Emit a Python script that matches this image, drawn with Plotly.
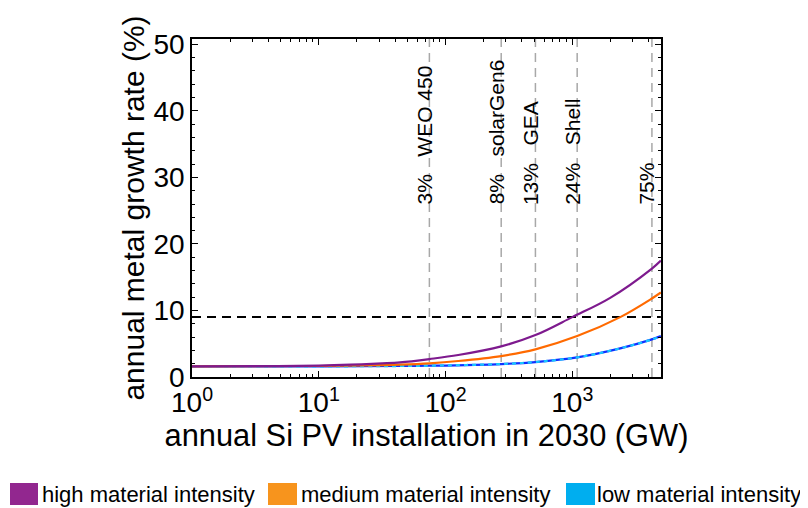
import math
import plotly.graph_objects as go

# ---- data ----
install_high = [1, 3.16, 10, 17.8, 31.6, 43.8, 74.6, 126, 275, 512, 1000, 1991, 4250, 5000]
growth_high = [1.6, 1.62, 1.72, 1.85, 2.05, 2.2, 2.7, 3.3, 4.6, 6.3, 9.0, 11.9, 16.3, 17.5]

install_med = [1, 10, 31.6, 43.8, 74.6, 126, 275, 512, 1093, 2390, 4250, 5000]
growth_med = [1.6, 1.65, 1.78, 1.85, 2.05, 2.4, 3.15, 4.15, 6.15, 9.0, 11.8, 12.7]

install_low = [1, 10, 43.8, 74.6, 275, 512, 1093, 2390, 4250, 5000]
growth_low = [1.6, 1.6, 1.65, 1.7, 1.95, 2.25, 2.95, 4.3, 5.65, 6.15]

threshold_x = [1, 5000]
threshold_y = [9.0, 9.0]

scenario_gw = [74.6, 275, 512, 1093, 4250]
scenario_labels = ["3%\u00a0\u00a0\u00a0WEO 450", "8%\u00a0\u00a0\u00a0solarGen6",
                   "13%\u00a0\u00a0\u00a0GEA", "24%\u00a0\u00a0\u00a0Shell", "75%"]
scenario_label_y = 25.6

legend_names = ["high material intensity", "medium material intensity", "low material intensity"]
legend_colors = ["#92278f", "#f7941d", "#00aeef"]

x_tickvals = [1, 10, 100, 1000]
x_ticktext = ["10<sup>0</sup>", "10<sup>1</sup>", "10<sup>2</sup>", "10<sup>3</sup>"]
y_tickvals = [0, 10, 20, 30, 40, 50]

FONT = "Liberation Sans, Arial, sans-serif"

# page body has an 8px margin, so the figure is drawn 8px smaller and offset
W, H = 800, 500
ML, MT, PW, PH = 184, 31, 469, 338


def px_x(page_x):
    return (page_x - 8 - ML) / PW


def px_y(page_y):
    return (MT + PH - (page_y - 8)) / PH


fig = go.Figure()

fig.add_trace(go.Scatter(x=threshold_x, y=threshold_y, mode="lines",
                         line=dict(color="black", width=2, dash="9px,6px"),
                         showlegend=False, hoverinfo="skip"))
fig.add_trace(go.Scatter(x=install_low, y=growth_low, mode="lines", line_shape="spline",
                         line=dict(color="#1030ff", width=2.2), showlegend=False))
fig.add_trace(go.Scatter(x=install_low, y=growth_low, mode="lines", line_shape="spline",
                         line=dict(color="#18c8ff", width=2.2, dash="4px,4px"),
                         name=legend_names[2], showlegend=False))
fig.add_trace(go.Scatter(x=install_med, y=growth_med, mode="lines", line_shape="spline",
                         line=dict(color="#ff6a00", width=2.2), name=legend_names[1],
                         showlegend=False))
fig.add_trace(go.Scatter(x=install_high, y=growth_high, mode="lines", line_shape="spline",
                         line=dict(color="#7e1a8e", width=2.2), name=legend_names[0],
                         showlegend=False))

shapes = []
annotations = []
for gw, lab in zip(scenario_gw, scenario_labels):
    shapes.append(dict(type="line", xref="x", yref="paper", x0=gw, x1=gw, y0=0, y1=1,
                       line=dict(color="#a8a8a8", width=1.5, dash="9px,6px"), layer="below"))
    annotations.append(dict(x=math.log10(gw), y=scenario_label_y, xref="x", yref="y", text=lab,
                            textangle=-90, showarrow=False, xanchor="center", yanchor="bottom",
                            xshift=-5, font=dict(family=FONT, size=21, color="black")))

# manual legend below the chart
leg_box_x = [[10, 38], [268, 297], [566, 595]]
leg_text_x = [40, 299, 595]
for (bx0, bx1), tx, name, col in zip(leg_box_x, leg_text_x, legend_names, legend_colors):
    shapes.append(dict(type="rect", xref="paper", yref="paper",
                       x0=px_x(bx0), x1=px_x(bx1), y0=px_y(505), y1=px_y(483),
                       fillcolor=col, line=dict(width=0)))
    annotations.append(dict(x=px_x(tx), y=px_y(494), xref="paper", yref="paper",
                            text=name, showarrow=False, xanchor="left", yanchor="middle",
                            font=dict(family=FONT, size=22, color="black")))

fig.update_layout(
    width=W, height=H,
    margin=dict(l=ML, r=W - ML - PW, t=MT, b=H - MT - PH, pad=0),
    paper_bgcolor="white", plot_bgcolor="white",
    font=dict(family=FONT, size=28, color="black"),
    shapes=shapes, annotations=annotations,
    showlegend=False,
)
fig.update_xaxes(type="log", range=[0, 3.7], tickvals=x_tickvals, ticktext=x_ticktext,
                 ticks="inside", ticklen=6, tickwidth=1, tickcolor="black",
                 showline=True, linecolor="black", linewidth=1.5, mirror="ticks",
                 showgrid=False, zeroline=False,
                 minor=dict(ticks="inside", ticklen=3, tickcolor="black",
                            tickvals=[m * 10 ** k for k in range(4) for m in range(2, 10) if m * 10 ** k <= 5000],
                            showgrid=False),
                 title=dict(text="annual Si PV installation in 2030 (GW)", standoff=5,
                            font=dict(size=30.8)),
                 tickfont=dict(size=28))
fig.update_yaxes(range=[0, 50.8], tickvals=y_tickvals,
                 ticks="inside", ticklen=6, tickwidth=1, tickcolor="black",
                 showline=True, linecolor="black", linewidth=1.5, mirror="ticks",
                 showgrid=False, zeroline=False,
                 minor=dict(ticks="inside", ticklen=3, tickcolor="black", dtick=2, showgrid=False),
                 title=dict(text="annual metal growth rate (%)", standoff=0, font=dict(size=30)),
                 tickfont=dict(size=28))

fig.write_html("out.html")
